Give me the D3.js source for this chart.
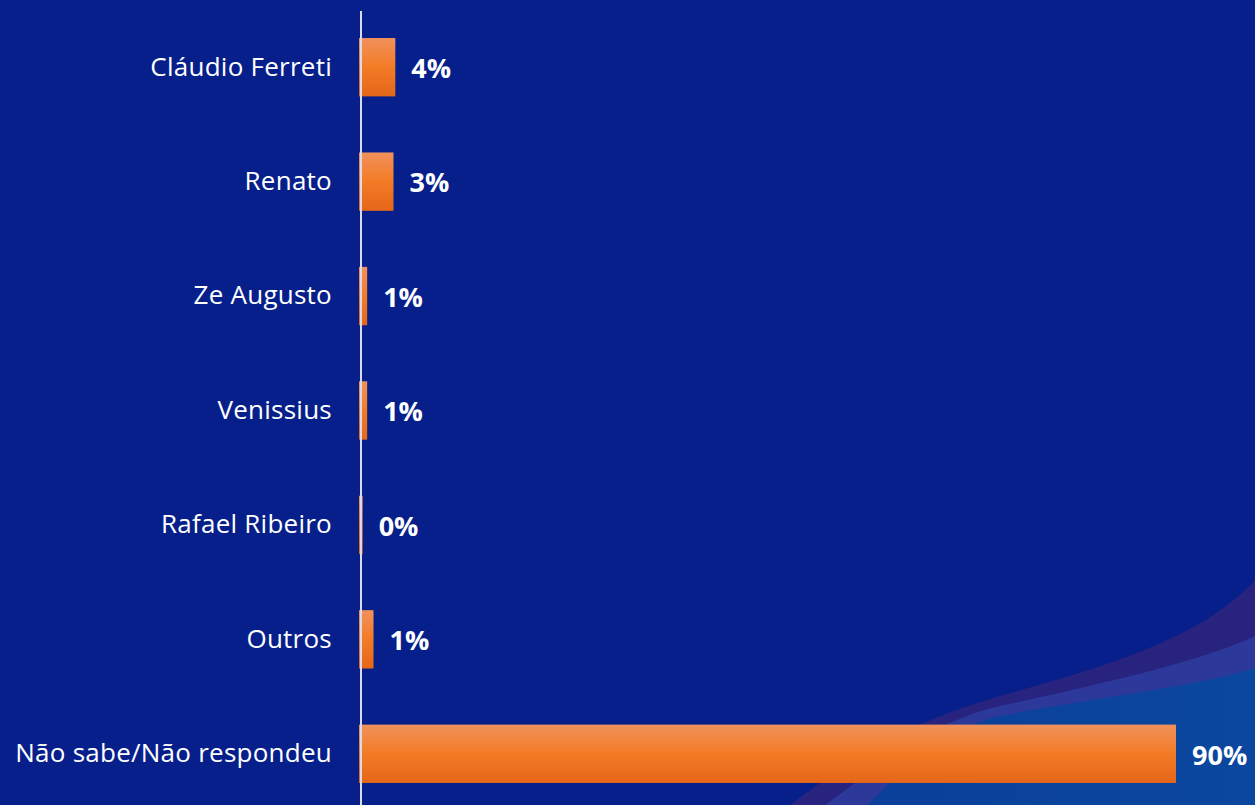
<!DOCTYPE html>
<html>
<head>
<meta charset="utf-8">
<script src="https://cdn.jsdelivr.net/npm/d3@7"></script>
<style>
    html, body { margin: 0; padding: 0; background: #061f8b; }
    svg { display: block; }
</style>
</head>
<body>
<svg id="chart"></svg>
<script>
// data
const categories = ['Cláudio Ferreti', 'Renato', 'Ze Augusto', 'Venissius', 'Rafael Ribeiro', 'Outros', 'Não sabe/Não respondeu'];
const values = [4.0, 3.8, 0.9, 0.9, 0.4, 1.6, 90];
const valueLabels = ['4%', '3%', '1%', '1%', '0%', '1%', '90%'];

const width = 1255;
const height = 805;

let svg = d3.select('#chart')
        .attr('width', width)
        .attr('height', height);

// background + decorative swoosh bottom right
svg.append('rect')
        .attr('width', width)
        .attr('height', height)
        .attr('fill', '#061f8b');

let defs = svg.append('defs');

let blueGrad = defs.append('linearGradient')
        .attr('id', 'blue-grad')
        .attr('x1', 0).attr('x2', 1).attr('y1', 0).attr('y2', 0);
blueGrad.append('stop').attr('offset', '0%').attr('stop-color', '#0a3f9a');
blueGrad.append('stop').attr('offset', '100%').attr('stop-color', '#0b479f');

let barGrad = defs.append('linearGradient')
        .attr('id', 'bar-grad')
        .attr('x1', 0).attr('x2', 0).attr('y1', 0).attr('y2', 1);
barGrad.append('stop').attr('offset', '0%').attr('stop-color', '#f1915c');
barGrad.append('stop').attr('offset', '50%').attr('stop-color', '#f37b25');
barGrad.append('stop').attr('offset', '100%').attr('stop-color', '#e5661a');

let swoosh = svg.append('g');
swoosh.append('path')
        .attr('d', 'M790,805 C850,760 900,725 1000,696 C1100,668 1200,640 1255,580 L1255,805 Z')
        .attr('fill', '#28237f');
swoosh.append('path')
        .attr('d', 'M825,805 C880,765 930,722 1000,706 C1100,684 1200,662 1255,636 L1255,805 Z')
        .attr('fill', '#2c389a');
swoosh.append('path')
        .attr('d', 'M868,805 C910,760 950,727 1000,716 C1100,697 1200,686 1255,668 L1255,805 Z')
        .attr('fill', 'url(#blue-grad)');

// scales
let x = d3.scaleLinear()
        .domain([0, 90])
        .range([359, 1176]);

let y = d3.scaleBand()
        .domain(categories)
        .range([10, 811])
        .paddingInner(0.49)
        .paddingOuter(0.245);

// bars
svg.append('g')
        .selectAll('rect')
        .data(values)
        .join('rect')
        .attr('x', x(0))
        .attr('y', (d, i) => y(categories[i]))
        .attr('width', d => x(d) - x(0))
        .attr('height', y.bandwidth())
        .attr('fill', 'url(#bar-grad)');

// value labels
svg.append('g')
        .selectAll('text')
        .data(values)
        .join('text')
        .attr('x', d => x(d) + 16)
        .attr('y', (d, i) => y(categories[i]) + y.bandwidth() / 2)
        .attr('dy', '0.4em')
        .attr('fill', '#ffffff')
        .style('font-family', '"Open Sans", sans-serif')
        .style('font-weight', 700)
        .style('font-size', '27px')
        .text((d, i) => valueLabels[i]);

// category axis
let axis = svg.append('g')
        .attr('transform', 'translate(361,0)')
        .call(d3.axisLeft(y).tickSize(0).tickPadding(29));

axis.select('.domain')
        .attr('d', 'M0,11V' + height)
        .attr('stroke', '#d9dbe8')
        .attr('stroke-width', 2);

axis.selectAll('text')
        .attr('fill', '#ffffff')
        .style('font-family', '"Open Sans", sans-serif')
        .style('font-size', '26px')
        .style('letter-spacing', '0.25px');
</script>
</body>
</html>
